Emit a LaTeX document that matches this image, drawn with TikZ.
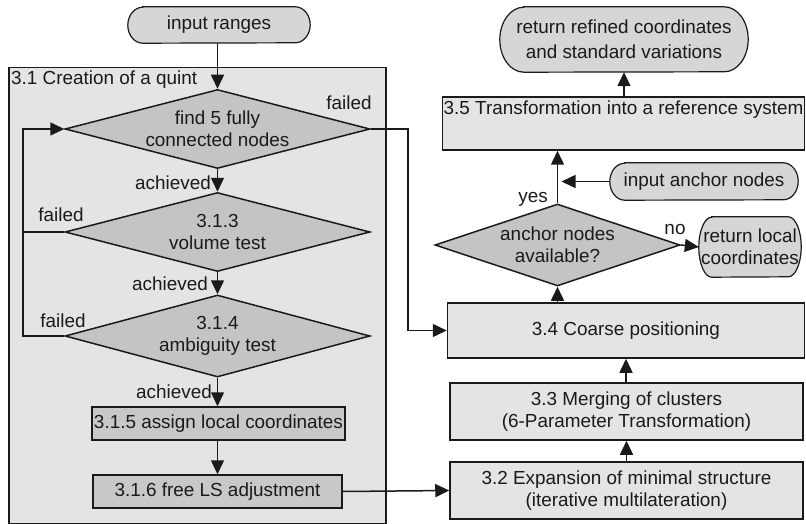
\documentclass[tikz,border=0pt]{standalone}
\usepackage{fontspec}
\setmainfont{Liberation Sans}
\usetikzlibrary{shapes.geometric,arrows.meta}
\definecolor{clusterfill}{HTML}{E4E4E4}
\definecolor{boxfill}{HTML}{E4E4E4}
\definecolor{darkfill}{HTML}{C8C8C8}
\definecolor{diafill}{HTML}{C4C4C4}
\definecolor{termfill}{HTML}{D6D6D6}
\definecolor{ink}{HTML}{1A1A1A}
\newcommand{\stadiumpath}[3]{%
  \draw[termline] ([xshift=#2]#1.north west) -- ([xshift=-#2]#1.north east)
    arc[start angle=90,end angle=-90,x radius=#2,y radius=#3]
    -- ([xshift=#2]#1.south west)
    arc[start angle=270,end angle=90,x radius=#2,y radius=#3] -- cycle;}
\begin{document}
\begin{tikzpicture}[x=1pt,y=-1pt,
  every node/.style={font=\fontsize{18.9}{22}\selectfont, text=ink},
  line/.style={draw=ink, line width=1.5pt},
  arr/.style={line, -{Triangle[length=14pt,width=13pt]}},
  lbox/.style={draw=ink, line width=1.5pt, fill=boxfill, rectangle, inner sep=0pt, align=center},
  dbox/.style={draw=ink, line width=1.5pt, fill=darkfill, rectangle, inner sep=0pt, align=center},
  dia/.style={draw=ink, line width=1.5pt, fill=diafill, diamond, inner sep=0pt, align=center},
  termshape/.style={rectangle, inner sep=0pt},
  termline/.style={draw=ink, line width=1.2pt, fill=termfill},
  lab/.style={inner sep=0pt, align=center}
]
\useasboundingbox (0,0) rectangle (806,524);

% cluster background
\node[draw=ink, line width=1.5pt, fill=clusterfill, rectangle, inner sep=0pt,
      minimum width=377pt, minimum height=456pt, anchor=north west] (cluster) at (8,67) {};
\node[lab, anchor=west] (clusterlab) at (11,80) {3.1 Creation of a quint};

% terminals
\node[termshape, minimum width=182pt, minimum height=36pt] (inr) at (219,25) {};
\stadiumpath{inr}{15pt}{18pt}
\node[lab] (inrt) at (inr) {input ranges};

\node[termshape, minimum width=248pt, minimum height=65pt] (refined) at (624,39.5) {};
\stadiumpath{refined}{24pt}{32.5pt}
\node[lab] (refinedt) at (refined) {return refined coordinates\\[3pt]and standard variations};

\node[termshape, minimum width=188pt, minimum height=37pt] (anchorin) at (704,181.5) {};
\stadiumpath{anchorin}{15pt}{18.5pt}
\node[lab] (anchorint) at (anchorin) {input anchor nodes};

\node[termshape, minimum width=102pt, minimum height=60pt] (retlocal) at (750,247) {};
\stadiumpath{retlocal}{13pt}{30pt}
\node[lab] (retlocalt) at (retlocal) {return local\\coordinates};

% diamonds
\node[dia, minimum width=305pt, minimum height=79pt, aspect=3.86] (d1) at (217.5,129) {find 5 fully\\connected nodes};
\node[dia, minimum width=305pt, minimum height=79pt, aspect=3.86] (d2) at (217.5,232) {3.1.3\\volume test};
\node[dia, minimum width=305pt, minimum height=82pt, aspect=3.72] (d3) at (217.5,336) {3.1.4\\ambiguity test};
\node[dia, minimum width=245pt, minimum height=82pt, aspect=3.0] (d4) at (557.5,245) {anchor nodes\\available?};

% boxes
\node[dbox, minimum width=253pt, minimum height=33pt] (b315) at (218.5,423.5) {3.1.5 assign local coordinates};
\node[dbox, minimum width=249pt, minimum height=33pt] (b316) at (217.5,491.5) {3.1.6 free LS adjustment};
\node[lbox, minimum width=353pt, minimum height=57pt] (b32) at (626.5,490.5) {3.2 Expansion of minimal structure\\(iterative multilateration)};
\node[lbox, minimum width=353pt, minimum height=57pt] (b33) at (626.5,411.5) {3.3 Merging of clusters\\(6-Parameter Transformation)};
\node[lbox, minimum width=357pt, minimum height=55pt] (b34) at (626,330.5) {3.4 Coarse positioning};
\node[lbox, minimum width=362pt, minimum height=53pt] (b35) at (623.5,123.5) {3.5 Transformation into a reference system\\[9pt]\mbox{}};

% edge labels
\node[lab] (lf1) at (349,103) {failed};
\node[lab] (la1) at (173,183) {achieved};
\node[lab] (lf2) at (61,215) {failed};
\node[lab] (la2) at (170,284) {achieved};
\node[lab] (lf3) at (63,321) {failed};
\node[lab] (la3) at (174,392) {achieved};
\node[lab] (lyes) at (533,199) {yes};
\node[lab] (lno) at (675,230) {no};

% coordinates for bends
\coordinate (loopx) at (23,0);
\coordinate (rx) at (408,0);
\coordinate (yesj) at (d4.north |- anchorin);

% connectors
\draw[arr] (inr.south -| d1.north) -- (d1.north);
\draw[arr] (d1.south) -- (d2.north);
\draw[arr] (d2.south) -- (d3.north);
\draw[arr] (d3.south) -- (d3.south |- b315.north);
\draw[arr] (b315.south -| b316.north) -- (b316.north);
\draw[arr] (d2.west) -- (d2.west -| loopx) -- (d1.west -| loopx) -- (d1.west);
\draw[line] (d3.west) -- (d3.west -| loopx) -- (d2.west -| loopx);
\draw[arr] (d1.east) -- (d1.east -| rx) -- (b34.west -| rx) -- (b34.west);
\draw[arr] (b316.east) -- (b32.west);
\draw[arr] (b32.north) -- (b33.south);
\draw[arr] (b33.north -| b34.south) -- (b34.south);
\draw[arr] (b34.north -| d4.south) -- (d4.south);
\draw[arr] (d4.east) -- (retlocal.west);
\draw[arr] (d4.north) -- (d4.north |- b35.south);
\draw[arr] (anchorin.west) -- ([xshift=4pt]yesj);
\draw[arr] (b35.north -| refined.south) -- (refined.south);
\end{tikzpicture}
\end{document}
